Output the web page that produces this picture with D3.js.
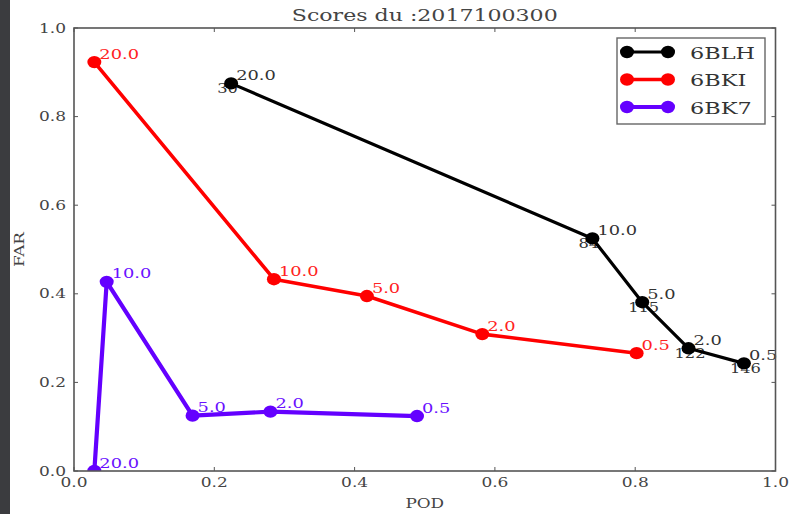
<!DOCTYPE html>
<html><head><meta charset="utf-8">
<script src="https://cdn.jsdelivr.net/npm/d3@7"></script>
<style>
html,body{margin:0;padding:0;background:#fff;}
svg{display:block;}
text{font-family:"DejaVu Serif",serif;}
</style></head>
<body>
<svg id="c" width="791" height="514"></svg>
<script>
// ---- data ----
const title = "Scores du :2017100300";
const thresholds = ["20.0", "10.0", "5.0", "2.0", "0.5"];
const pod6BLH = [0.224, 0.739, 0.810, 0.876, 0.955];
const far6BLH = [0.875, 0.525, 0.381, 0.277, 0.243];
const count6BLH = ["30", "84", "115", "122", "146"];
const pod6BKI = [0.029, 0.285, 0.4175, 0.582, 0.802];
const far6BKI = [0.923, 0.433, 0.395, 0.309, 0.266];
const pod6BK7 = [0.029, 0.0466, 0.169, 0.280, 0.489];
const far6BK7 = [0.0, 0.427, 0.125, 0.134, 0.124];
const xTicks = [0.0, 0.2, 0.4, 0.6, 0.8, 1.0];
const yTicks = [0.0, 0.2, 0.4, 0.6, 0.8, 1.0];

const series = [
  {name: "6BLH", color: "#000000", label: "#333333", pod: pod6BLH, far: far6BLH, width: 3.2, counts: count6BLH},
  {name: "6BKI", color: "#ff0000", label: "#ff2222", pod: pod6BKI, far: far6BKI, width: 3.6},
  {name: "6BK7", color: "#6400ff", label: "#6a10ff", pod: pod6BK7, far: far6BK7, width: 4.2}
];

const svg = d3.select("#c");
const L = 74, R = 775.5, T = 28, B = 471;
const x = d3.scaleLinear().domain([0, 1]).range([L, R]);
const y = d3.scaleLinear().domain([0, 1]).range([B, T]);
const SX = 1.36;

function stext(parent, px, py, str, opts) {
  const g = parent.append("g").attr("transform", `translate(${px},${py})`);
  const t = g.append("text")
    .attr("transform", `scale(${opts.sx || SX},1)`)
    .attr("text-anchor", opts.anchor || "start")
    .attr("font-size", opts.size || 12)
    .attr("fill", opts.fill || "#333")
    .text(str);
  return t;
}

// left dark strip
svg.append("rect").attr("x", 0).attr("y", 0).attr("width", 10).attr("height", 514).attr("fill", "#3b3c3f");

svg.append("clipPath").attr("id", "clip").append("rect")
  .attr("x", L).attr("y", T).attr("width", R - L).attr("height", B - T);

// ticks (inward, all sides)
const tk = svg.append("g").attr("stroke", "#555").attr("stroke-width", 1);
xTicks.forEach(v => {
  tk.append("line").attr("x1", x(v)).attr("x2", x(v)).attr("y1", B).attr("y2", B - 4);
  tk.append("line").attr("x1", x(v)).attr("x2", x(v)).attr("y1", T).attr("y2", T + 4);
});
yTicks.forEach(v => {
  tk.append("line").attr("x1", L).attr("x2", L + 4).attr("y1", y(v)).attr("y2", y(v));
  tk.append("line").attr("x1", R).attr("x2", R - 4).attr("y1", y(v)).attr("y2", y(v));
});

// tick labels
xTicks.forEach(v => stext(svg, x(v), 487, d3.format(".1f")(v), {anchor: "middle", size: 12.5, fill: "#444"}));
yTicks.forEach(v => stext(svg, 66, y(v) + 4.5, d3.format(".1f")(v), {anchor: "end", size: 12.5, fill: "#444"}));

// axis titles
stext(svg, (L + R) / 2, 508, "POD", {anchor: "middle", size: 13, fill: "#444", sx: 1.3});
svg.append("text").attr("transform", `translate(24,${(T + B) / 2}) rotate(-90) scale(1.3,1)`)
  .attr("text-anchor", "middle").attr("font-size", 13).attr("fill", "#444").text("FAR");

// title
stext(svg, (L + R) / 2, 21, title, {anchor: "middle", size: 16, fill: "#444", sx: 1.38});

// secondary labels (beneath markers)
series.forEach(s => {
  if (!s.counts) return;
  s.counts.forEach((c, i) => {
    stext(svg, x(s.pod[i]) - 14, y(s.far[i]) + 10, c, {size: 12.5, fill: "#333", sx: 1.3});
  });
});

// lines + markers
const plot = svg.append("g").attr("clip-path", "url(#clip)");
const line = d3.line().x(d => x(d[0])).y(d => y(d[1]));
series.forEach(s => {
  const pts = s.pod.map((p, i) => [p, s.far[i]]);
  plot.append("path").attr("d", line(pts)).attr("fill", "none")
    .attr("stroke", s.color).attr("stroke-width", s.width).attr("stroke-linejoin", "round");
  plot.selectAll(null).data(pts).enter().append("ellipse")
    .attr("cx", d => x(d[0])).attr("cy", d => y(d[1]))
    .attr("rx", 7).attr("ry", 6.2).attr("fill", s.color);
});

// threshold labels
series.forEach(s => {
  thresholds.forEach((t, i) => {
    stext(svg, x(s.pod[i]) + 5, y(s.far[i]) - 3.5, t, {size: 13.5, fill: s.label, sx: 1.32});
  });
});

// frame
svg.append("rect").attr("x", L).attr("y", T).attr("width", R - L).attr("height", B - T)
  .attr("fill", "none").attr("stroke", "#555").attr("stroke-width", 1.6);

// legend
const lg = svg.append("g");
lg.append("rect").attr("x", 617).attr("y", 38).attr("width", 148).attr("height", 86)
  .attr("fill", "#fff").attr("stroke", "#666").attr("stroke-width", 1.4);
series.forEach((s, i) => {
  const yy = 52 + i * 27.5;
  lg.append("line").attr("x1", 627).attr("x2", 668).attr("y1", yy).attr("y2", yy)
    .attr("stroke", s.color).attr("stroke-width", s.width);
  [627, 668].forEach(cx => lg.append("ellipse").attr("cx", cx).attr("cy", yy).attr("rx", 7).attr("ry", 6.2).attr("fill", s.color));
  stext(lg, 690, yy + 6.5, s.name, {size: 17.5, fill: "#333", sx: 1.28});
});
</script>
</body></html>
